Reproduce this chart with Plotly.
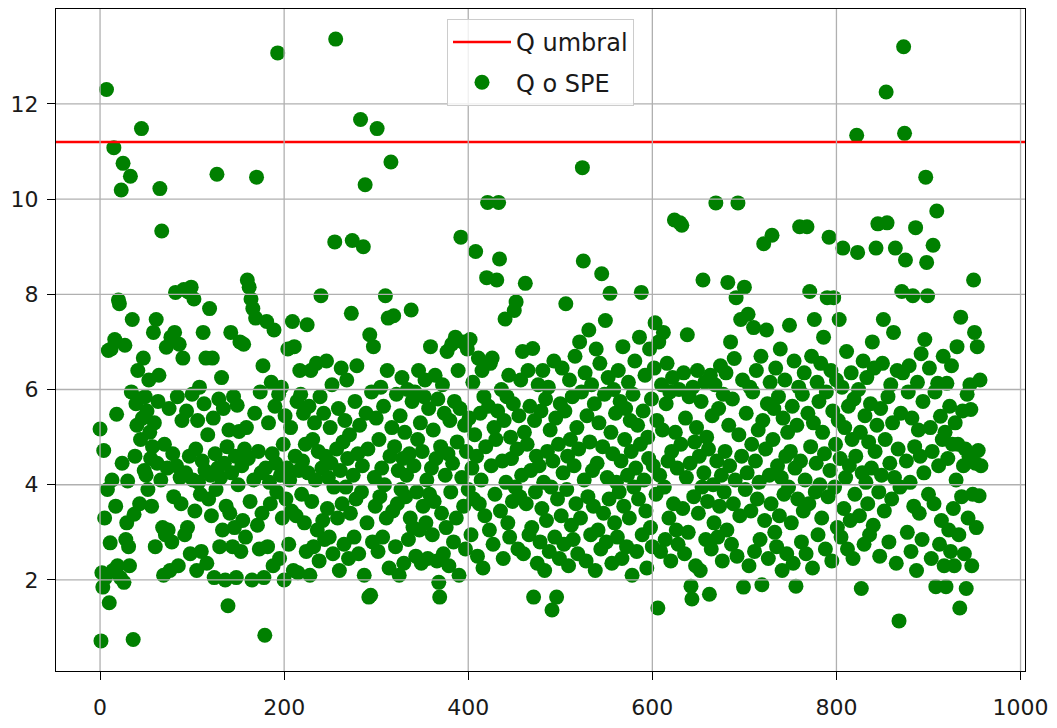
import plotly.graph_objects as go

# Q / SPE statistic per observation, in observation order (index = sample number)
spe = [
    5.17, 0.72, 2.15, 1.85, 4.72, 3.30, 2.05, 12.30, 3.90, 6.82,
    1.52, 2.78, 6.85, 4.10, 2.20, 11.08, 7.05, 3.55, 5.48, 2.30,
    7.88, 7.80, 2.05, 10.19, 4.45, 10.75, 1.95, 6.93, 2.85, 3.20,
    4.08, 2.70, 2.30, 10.48, 5.95, 7.47, 0.75, 3.38, 4.60, 5.70,
    5.25, 6.40, 5.80, 3.60, 4.95, 11.48, 5.40, 6.66, 4.30, 5.85,
    4.20, 5.55, 3.90, 6.20, 5.10, 4.55, 3.55, 4.80, 7.20, 5.30,
    2.70, 7.47, 4.45, 5.75, 6.30, 10.22, 4.10, 9.33, 3.10, 2.10,
    4.85, 2.95, 6.89, 4.35, 3.05, 5.60, 2.20, 7.10, 2.80, 4.65,
    3.75, 7.20, 8.04, 4.40, 5.85, 2.30, 6.95, 4.15, 3.60, 5.35,
    6.66, 8.10, 2.95, 4.25, 5.55, 3.10, 8.05, 4.60, 2.55, 8.15,
    5.90, 4.10, 7.90, 3.45, 4.75, 2.20, 5.35, 4.05, 6.05, 3.80,
    2.60, 4.50, 7.20, 5.70, 4.30, 6.66, 2.35, 5.05, 3.70, 7.70,
    4.20, 3.35, 6.66, 5.40, 2.05, 4.65, 3.90, 10.52, 4.35, 5.80,
    2.70, 4.15, 6.25, 3.05, 5.60, 4.45, 2.00, 3.55, 4.80, 1.46,
    5.15, 3.40, 7.20, 4.25, 2.70, 5.85, 3.10, 4.60, 2.05, 5.67,
    4.00, 5.12, 7.00, 2.60, 4.40, 3.25, 6.95, 4.75, 2.90, 5.20,
    8.30, 4.55, 8.15, 3.65, 7.90, 2.00, 7.70, 4.10, 5.50, 7.50,
    10.46, 3.15, 4.70, 2.65, 5.95, 4.25, 3.40, 6.50, 2.05, 0.84,
    4.35, 7.43, 2.70, 5.30, 4.05, 3.60, 6.15, 4.65, 2.30, 7.25,
    5.65, 4.45, 3.85, 13.07, 5.90, 2.45, 4.20, 6.05, 3.30, 4.85,
    2.00, 5.45, 3.70, 4.35, 6.85, 2.75, 4.10, 5.20, 3.45, 7.43,
    2.20, 6.90, 4.60, 3.35, 5.75, 2.15, 4.30, 6.40, 5.90, 3.80,
    4.50, 5.50, 3.20, 4.85, 2.60, 7.36, 4.25, 5.65, 2.10, 6.40,
    3.65, 4.95, 2.70, 5.30, 4.10, 6.55, 3.05, 4.70, 2.40, 5.85,
    7.97, 4.35, 3.25, 5.50, 2.85, 4.60, 6.60, 3.50, 4.15, 2.90,
    5.20, 4.45, 6.10, 2.55, 3.95, 9.10, 13.36, 4.75, 3.30, 5.60,
    2.20, 4.30, 6.45, 3.60, 4.90, 2.75, 5.35, 3.95, 6.20, 4.55,
    2.45, 5.05, 3.40, 7.60, 9.13, 4.20, 2.90, 5.75, 3.70, 6.50,
    4.65, 2.55, 5.25, 11.67, 3.85, 4.40, 9.00, 2.10, 10.30, 5.50,
    3.20, 4.75, 1.64, 7.15, 1.68, 5.95, 2.80, 6.90, 4.15, 3.55,
    5.40, 11.48, 2.60, 4.95, 3.75, 6.05, 4.35, 2.90, 5.65, 4.00,
    7.97, 3.30, 6.40, 7.50, 2.25, 4.60, 10.78, 5.20, 3.45, 7.55,
    4.80, 2.70, 5.90, 3.60, 4.30, 2.10, 5.45, 3.90, 6.25, 4.55,
    2.35, 5.10, 3.75, 4.20, 6.00, 2.85, 4.65, 3.30, 7.67, 5.75,
    3.10, 4.40, 5.95, 2.50, 3.85, 4.95, 6.40, 3.05, 5.30, 2.35,
    4.70, 3.55, 5.85, 6.20, 3.20, 4.10, 2.45, 5.60, 3.80, 6.90,
    4.35, 2.95, 5.15, 3.65, 6.30, 4.55, 2.40, 5.80, 1.95, 1.64,
    4.80, 3.40, 6.10, 2.55, 5.50, 4.20, 3.10, 6.80, 4.65, 2.30,
    5.35, 3.85, 6.95, 4.45, 2.80, 5.75, 7.10, 3.30, 4.90, 6.40,
    2.10, 5.60, 9.20, 4.15, 7.00, 3.55, 5.25, 2.65, 4.70, 6.85,
    3.90, 5.40, 7.05, 2.95, 4.35, 6.15, 3.70, 5.05, 8.90, 4.60,
    2.50, 6.66, 3.60, 5.50, 4.10, 6.40, 2.25, 5.85, 3.35, 4.80,
    8.35, 9.93, 5.65, 3.05, 6.55, 4.40, 6.66, 2.75, 5.20, 3.80,
    4.95, 8.30, 5.55, 9.93, 8.74, 3.45, 6.00, 4.50, 2.45, 5.35,
    7.48, 4.05, 5.85, 3.20, 6.30, 2.90, 5.00, 4.55, 3.65, 5.70,
    7.66, 3.95, 7.84, 4.75, 2.65, 5.45, 3.75, 6.20, 4.20, 6.80,
    2.55, 5.10, 8.23, 3.60, 4.85, 6.40, 2.95, 5.65, 4.30, 3.10,
    6.86, 1.64, 5.35, 3.85, 4.60, 2.35, 6.10, 4.40, 2.80, 5.55,
    3.50, 6.40, 4.05, 2.20, 5.80, 3.25, 4.70, 6.05, 2.60, 5.15,
    3.95, 1.37, 4.50, 6.60, 2.90, 5.40, 1.64, 3.70, 4.85, 2.45,
    5.70, 3.35, 6.45, 4.25, 2.75, 5.55, 7.80, 3.90, 4.60, 2.30,
    6.20, 4.95, 3.15, 5.85, 2.85, 4.40, 6.70, 3.60, 5.20, 2.55,
    4.75, 7.00, 3.30, 5.95, 10.66, 8.70, 4.10, 6.35, 2.40, 5.45,
    3.75, 7.25, 4.90, 2.95, 6.10, 4.30, 3.55, 5.70, 2.20, 6.85,
    4.45, 3.05, 5.30, 6.55, 2.65, 8.43, 4.80, 3.40, 5.90, 7.45,
    2.80, 4.15, 6.25, 3.70, 8.02, 5.10, 2.35, 4.65, 6.00, 3.20,
    5.50, 4.05, 2.90, 6.40, 3.85, 5.75, 4.50, 2.45, 6.90, 3.55,
    4.95, 5.60, 2.70, 4.20, 6.15, 3.30, 5.35, 4.70, 2.10, 5.90,
    3.95, 6.60, 4.35, 2.60, 5.25, 3.70, 7.10, 4.85, 8.04, 2.95,
    5.55, 4.10, 6.30, 3.45, 2.25, 5.00, 4.55, 6.85, 3.10, 5.80,
    2.70, 4.40, 6.45, 7.40, 3.80, 5.35, 1.41, 7.00, 4.20, 2.60,
    6.10, 5.15, 7.20, 3.95, 2.85, 5.70, 6.55, 4.50, 3.30, 5.95,
    2.40, 4.70, 6.25, 3.60, 9.56, 5.10, 3.05, 4.35, 2.75, 6.00,
    9.50, 4.85, 9.45, 3.50, 6.35, 2.55, 5.40, 4.15, 7.15, 3.00,
    5.85, 4.45, 1.87, 1.60, 6.05, 3.75, 4.90, 2.30, 5.20, 6.40,
    3.40, 4.60, 2.20, 5.75, 3.95, 8.30, 4.25, 6.15, 2.85, 5.00,
    3.65, 4.75, 1.70, 6.30, 2.65, 5.45, 4.00, 3.20, 6.10, 9.92,
    4.50, 2.90, 5.60, 3.55, 6.50, 4.20, 2.40, 5.90, 3.85, 4.70,
    6.35, 3.05, 8.25, 5.25, 4.40, 7.00, 2.75, 5.80, 3.60, 6.65,
    4.10, 7.93, 2.50, 9.92, 5.05, 3.35, 7.47, 4.60, 6.20, 1.85,
    8.15, 3.90, 5.50, 4.25, 7.58, 2.30, 6.05, 3.45, 4.85, 5.95,
    7.30, 2.60, 4.50, 6.40, 3.70, 5.15, 4.05, 2.85, 6.70, 1.90,
    5.35, 9.06, 3.25, 4.75, 7.25, 5.70, 2.45, 4.20, 6.15, 3.60,
    9.24, 4.95, 5.60, 3.00, 6.45, 2.70, 4.40, 5.85, 3.35, 6.85,
    4.15, 2.20, 5.40, 3.80, 6.20, 4.60, 2.55, 5.10, 3.95, 7.35,
    4.70, 3.20, 5.65, 2.35, 6.60, 4.35, 1.87, 5.25, 3.70, 6.05,
    9.42, 4.50, 2.80, 5.90, 3.45, 6.35, 4.10, 2.55, 9.42, 5.50,
    3.60, 8.06, 4.80, 6.70, 2.25, 5.30, 7.47, 3.85, 4.45, 6.15,
    2.95, 5.75, 4.00, 6.55, 3.30, 5.10, 7.10, 4.65, 2.65, 5.95,
    7.93, 3.75, 9.20, 4.30, 6.40, 2.40, 5.55, 7.93, 3.95, 4.85,
    6.20, 3.10, 5.35, 7.47, 4.55, 2.90, 6.05, 8.97, 3.50, 5.20,
    4.15, 6.80, 2.65, 5.65, 4.40, 3.25, 6.35, 4.95, 2.45, 5.80,
    3.80, 4.60, 11.34, 8.88, 6.00, 3.35, 5.10, 1.82, 4.25, 6.60,
    2.75, 5.45, 4.05, 6.25, 3.60, 4.90, 2.95, 5.70, 4.35, 7.00,
    3.15, 6.45, 4.70, 8.97, 5.25, 9.48, 3.85, 2.50, 5.60, 4.20,
    6.55, 7.47, 3.45, 4.95, 12.25, 9.50, 5.85, 2.80, 4.45, 6.10,
    3.70, 5.30, 7.20, 4.15, 8.97, 2.35, 6.40, 4.75, 1.14, 3.95,
    5.50, 8.06, 6.35, 13.20, 11.38, 8.72, 4.50, 3.00, 5.95, 6.50,
    4.05, 2.60, 5.40, 7.97, 3.55, 4.80, 9.40, 2.20, 6.15, 5.15,
    3.40, 4.60, 6.75, 2.85, 5.75, 4.25, 7.05, 10.46, 8.67, 7.97,
    3.80, 6.45, 5.20, 2.45, 4.70, 9.03, 3.60, 5.95, 1.86, 9.75,
    6.13, 4.40, 2.75, 5.44, 3.25, 4.95, 6.70, 2.30, 5.10, 1.86,
    6.13, 4.55, 3.05, 5.65, 2.60, 6.50, 4.85, 3.50, 2.30, 5.30,
    4.10, 6.90, 4.85, 2.95, 1.41, 7.52, 3.75, 5.55, 4.40, 2.55,
    4.75, 1.82, 5.90, 3.30, 4.60, 6.10, 5.58, 2.30, 3.80, 8.30,
    7.20, 4.45, 3.10, 6.90, 4.72, 3.77, 6.20, 4.40,
]
sample = list(range(len(spe)))

# control limit for the Q statistic
q_umbral = 11.2

x_ticks = [0, 200, 400, 600, 800, 1000]
y_ticks = [2, 4, 6, 8, 10, 12]

# axis limits padded by 5 % of the data span on each side
x_pad = 0.05 * (max(sample) - min(sample))
y_pad = 0.05 * (max(spe) - min(spe))
x_lim = [min(sample) - x_pad, max(sample) + x_pad]
y_lim = [min(spe) - y_pad, max(spe) + y_pad]

FONT = "DejaVu Sans"
GRID = "#b0b0b0"

fig = go.Figure()

fig.add_trace(go.Scatter(
    x=sample, y=spe, mode="markers", name="Q o SPE",
    marker=dict(color="#008000", size=15, line=dict(width=0)),
    legendrank=2, legendgroup="spe",
))

fig.add_trace(go.Scatter(
    x=x_lim, y=[q_umbral, q_umbral], mode="lines", name="Q umbral",
    line=dict(color="#ff0000", width=2.6),
    legendrank=1, legendgroup="umbral",
))

# grid drawn over the markers
shapes = []
for t in x_ticks:
    shapes.append(dict(type="line", xref="x", yref="paper", x0=t, x1=t, y0=0, y1=1,
                       line=dict(color=GRID, width=1.3), layer="above"))
for t in y_ticks:
    shapes.append(dict(type="line", xref="paper", yref="y", x0=0, x1=1, y0=t, y1=t,
                       line=dict(color=GRID, width=1.3), layer="above"))

axis_common = dict(
    showgrid=False, zeroline=False,
    showline=True, linecolor="black", linewidth=1.3, mirror=True,
    ticks="outside", ticklen=8, tickwidth=1.3, tickcolor="black",
    tickfont=dict(family=FONT, size=22, color="#1a1a1a"),
    ticklabeloverflow="allow",
)

fig.update_layout(
    width=1057, height=728,
    margin=dict(l=56, r=26, t=8, b=42),
    paper_bgcolor="white", plot_bgcolor="white",
    font=dict(family=FONT, color="black"),
    xaxis=dict(range=x_lim, tickvals=x_ticks, ticklabelstandoff=8, **axis_common),
    yaxis=dict(range=y_lim, tickvals=y_ticks, ticklabelstandoff=4, **axis_common),
    shapes=shapes,
    showlegend=True,
    legend=dict(
        x=0.5, y=0.985, xanchor="center", yanchor="top",
        bgcolor="rgba(255,255,255,0.8)", bordercolor="#cccccc", borderwidth=1,
        font=dict(family=FONT, size=24, color="#1a1a1a"),
        itemwidth=58, traceorder="grouped", tracegroupgap=6,
    ),
)

fig.write_html("out.html")
